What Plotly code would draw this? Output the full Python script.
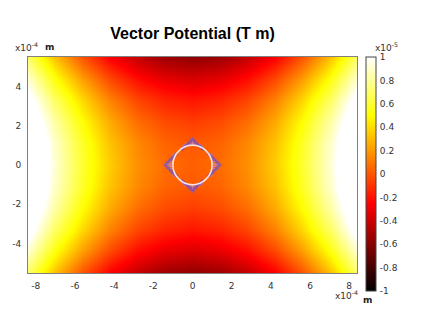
import math
import plotly.graph_objects as go

# ---- data (values in units of 1e-5 T m, coordinates in units of 1e-4 m) ----
x_grid = [-8.4, -7.0, -5.6, -4.2, -2.8, -1.4, 0.0, 1.4, 2.8, 4.2, 5.6, 7.0, 8.4]
y_grid = [-5.5, -4.4, -3.3, -2.2, -1.1, 0.0, 1.1, 2.2, 3.3, 4.4, 5.5]

row_y55 = [0.70, 0.31, -0.01, -0.26, -0.43, -0.54, -0.58, -0.54, -0.43, -0.26, -0.01, 0.31, 0.70]
row_y44 = [0.91, 0.52, 0.21, -0.04, -0.22, -0.32, -0.36, -0.32, -0.22, -0.04, 0.21, 0.52, 0.91]
row_y33 = [1.08, 0.69, 0.38, 0.13, -0.05, -0.15, -0.19, -0.15, -0.05, 0.13, 0.38, 0.69, 1.08]
row_y22 = [1.20, 0.82, 0.50, 0.25, 0.07, -0.03, -0.07, -0.03, 0.07, 0.25, 0.50, 0.82, 1.20]
row_y11 = [1.28, 0.89, 0.57, 0.32, 0.15, 0.04, 0.01, 0.04, 0.15, 0.32, 0.57, 0.89, 1.28]
row_y00 = [1.30, 0.91, 0.59, 0.35, 0.17, 0.07, 0.03, 0.07, 0.17, 0.35, 0.59, 0.91, 1.30]

z_values = [row_y55, row_y44, row_y33, row_y22, row_y11, row_y00,
            row_y11, row_y22, row_y33, row_y44, row_y55]

# arrows on the conductor boundary (angle in degrees, length)
side_angles = [-35, -30, -25, -20, -15, -10, -5, 0, 5, 10, 15, 20, 25, 30, 35]
side_lengths = [0.15, 0.20, 0.23, 0.28, 0.33, 0.40, 0.47, 0.55, 0.47, 0.40, 0.33, 0.28, 0.23, 0.20, 0.15]
tb_offsets = [-30, -25, -20, -15, -10, -5, 0, 5, 10, 15, 20, 25, 30]
tb_lengths = [0.12, 0.17, 0.21, 0.26, 0.32, 0.38, 0.45, 0.38, 0.32, 0.26, 0.21, 0.17, 0.12]
conductor_radius = 1.0

x_tickvals = [-8, -6, -4, -2, 0, 2, 4, 6, 8]
x_ticktext = ["-8", "-6", "-4", "-2", "0", "2", "4", "6", "8"]
y_tickvals = [-4, -2, 0, 2, 4]
y_ticktext = ["-4", "-2", "0", "2", "4"]
cb_tickvals = [-1, -0.8, -0.6, -0.4, -0.2, 0, 0.2, 0.4, 0.6, 0.8, 1]
cb_ticktext = ["-1", "-0.8", "-0.6", "-0.4", "-0.2", "0", "0.2", "0.4", "0.6", "0.8", "1"]

# ---- figure ----
hot = [[0, "rgb(0,0,0)"], [0.375, "rgb(255,0,0)"], [0.75, "rgb(255,255,0)"], [1, "rgb(255,255,255)"]]

fig = go.Figure()
fig.add_trace(go.Heatmap(
    x=x_grid, y=y_grid, z=z_values, zsmooth="best",
    colorscale=hot, zmin=-1, zmax=1,
    colorbar=dict(
        x=1.027, xanchor="left", xpad=0, ypad=0,
        y=1.0, yanchor="top", lenmode="pixels", len=234,
        thickness=10, outlinewidth=1, outlinecolor="#444",
        tickvals=cb_tickvals, ticktext=cb_ticktext,
        ticks="outside", ticklen=2, tickcolor="rgba(0,0,0,0)",
        tickfont=dict(family="DejaVu Sans", size=9, color="#333"),
    ),
    hoverinfo="skip",
))

ax, ay = [], []
for centre, sign in [(0, 1), (180, -1)]:
    for a, L in zip(side_angles, side_lengths):
        t = math.radians(centre + a)
        x0, y0 = conductor_radius * math.cos(t), conductor_radius * math.sin(t)
        ax += [x0, x0 + sign * L, None]
        ay += [y0, y0, None]
for centre, sign in [(90, 1), (270, -1)]:
    for a, L in zip(tb_offsets, tb_lengths):
        t = math.radians(centre + a)
        x0, y0 = conductor_radius * math.cos(t), conductor_radius * math.sin(t)
        ax += [x0, x0, None]
        ay += [y0, y0 + sign * L, None]

msize = [0 if (i % 3 == 0) else 5 for i in range(len(ax))]
fig.add_trace(go.Scatter(
    x=ax, y=ay, mode="lines+markers",
    line=dict(color="rgba(200,150,225,0.9)", width=0.8),
    marker=dict(symbol="arrow", angleref="previous", size=msize, color="rgb(100,80,225)",
                line=dict(width=0)),
    hoverinfo="skip", showlegend=False,
))

fig.add_shape(type="circle", xref="x", yref="y",
              x0=-conductor_radius, x1=conductor_radius, y0=-conductor_radius, y1=conductor_radius,
              line=dict(color="rgba(255,235,235,0.95)", width=1.5))

axis_common = dict(showgrid=False, zeroline=False, showline=True, linecolor="#808080",
                   linewidth=1, mirror=True, ticks="outside", ticklen=4,
                   tickcolor="rgba(0,0,0,0)",
                   tickfont=dict(family="DejaVu Sans", size=9, color="#333"))
fig.update_xaxes(range=[-8.4, 8.4], tickvals=x_tickvals, ticktext=x_ticktext, **axis_common)
fig.update_yaxes(range=[-5.5, 5.5], tickvals=y_tickvals, ticktext=y_ticktext, **axis_common)

fig.update_layout(
    width=436, height=327,
    margin=dict(l=28, r=79, t=57, b=54),
    paper_bgcolor="white", plot_bgcolor="white",
    title=dict(text="Vector Potential (T m)", x=0.5, xref="paper", xanchor="center",
               y=1 - 33 / 327, yref="container", yanchor="middle",
               font=dict(family="Liberation Sans", size=16, color="black", weight="bold")),
    showlegend=False,
)

small = dict(family="DejaVu Sans", size=9, color="#333")
fig.add_annotation(text="x10<sup>-4</sup>", xref="paper", yref="paper", x=-0.006, y=1.046,
                   xanchor="center", yanchor="middle", showarrow=False, font=small)
fig.add_annotation(text="<b>m</b>", xref="paper", yref="paper", x=0.064, y=1.046,
                   xanchor="center", yanchor="middle", showarrow=False,
                   font=dict(family="DejaVu Sans", size=9, color="#222"))
fig.add_annotation(text="x10<sup>-4</sup>", xref="paper", yref="paper", x=0.967, y=-0.102,
                   xanchor="center", yanchor="middle", showarrow=False, font=small)
fig.add_annotation(text="<b>m</b>", xref="paper", yref="paper", x=1.033, y=-0.125,
                   xanchor="center", yanchor="middle", showarrow=False,
                   font=dict(family="DejaVu Sans", size=9, color="#222"))
fig.add_annotation(text="x10<sup>-5</sup>", xref="paper", yref="paper", x=1.091, y=1.046,
                   xanchor="center", yanchor="middle", showarrow=False, font=small)

fig.write_html("out.html", config={"displayModeBar": False},
               post_script="document.body.style.margin='0';")
